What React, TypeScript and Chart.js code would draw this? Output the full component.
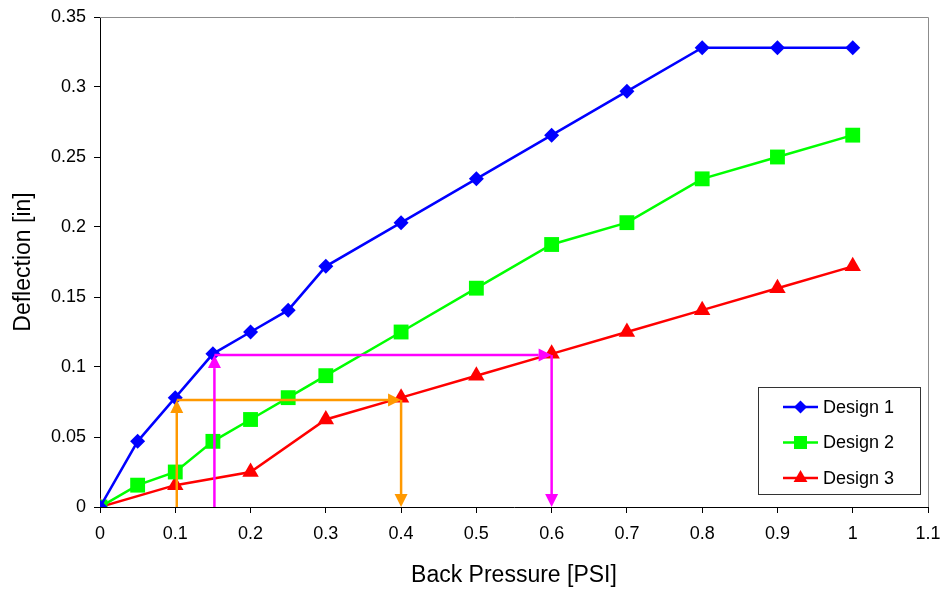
import React, { useEffect, useRef } from "react";
import { Chart, registerables } from "chart.js";

Chart.register(...registerables);

// ---- data ----
const xDesign1 = [0, 0.05, 0.1, 0.15, 0.2, 0.25, 0.3, 0.4, 0.5, 0.6, 0.7, 0.8, 0.9, 1];
const yDesign1 = [0, 0.0469, 0.0781, 0.1094, 0.125, 0.1406, 0.1719, 0.2031, 0.2344, 0.2656, 0.2969, 0.3281, 0.3281, 0.3281];

const xDesign2 = [0, 0.05, 0.1, 0.15, 0.2, 0.25, 0.3, 0.4, 0.5, 0.6, 0.7, 0.8, 0.9, 1];
const yDesign2 = [0, 0.0156, 0.025, 0.0469, 0.0625, 0.0781, 0.0938, 0.125, 0.1563, 0.1875, 0.2031, 0.2344, 0.25, 0.2656];

const xDesign3 = [0, 0.1, 0.2, 0.3, 0.4, 0.5, 0.6, 0.7, 0.8, 0.9, 1];
const yDesign3 = [0, 0.0156, 0.025, 0.0625, 0.0781, 0.0938, 0.1094, 0.125, 0.1406, 0.1563, 0.1719];

const seriesLabels = ["Design 1", "Design 2", "Design 3"];

// arrows: [x1, y1, x2, y2] in data units, head at (x2, y2)
const orangeArrows = [
  [0.102, 0, 0.102, 0.0765],
  [0.102, 0.0765, 0.4, 0.0765],
  [0.4, 0.0765, 0.4, 0],
];
const magentaArrows = [
  [0.152, 0, 0.152, 0.1085],
  [0.152, 0.1085, 0.6, 0.1085],
  [0.6, 0.1085, 0.6, 0],
];

const xTicks = [0, 0.1, 0.2, 0.3, 0.4, 0.5, 0.6, 0.7, 0.8, 0.9, 1, 1.1];
const yTicks = [0, 0.05, 0.1, 0.15, 0.2, 0.25, 0.3, 0.35];

const FONT = "'Liberation Sans', Arial, sans-serif";

const toPoints = (xs: number[], ys: number[]) => xs.map((x, i) => ({ x, y: ys[i] }));

const arrowPlugin = {
  id: "arrows",
  afterDatasetsDraw(chart: any) {
    const { ctx, scales } = chart;
    const xs = scales.x;
    const ys = scales.y;
    const drawSet = (arr: number[][], color: string) => {
      arr.forEach(([x1, y1, x2, y2]) => {
        const px1 = xs.getPixelForValue(x1);
        const py1 = ys.getPixelForValue(y1);
        const px2 = xs.getPixelForValue(x2);
        const py2 = ys.getPixelForValue(y2);
        const ang = Math.atan2(py2 - py1, px2 - px1);
        const len = 13;
        const half = 6.5;
        const bx = px2 - Math.cos(ang) * len;
        const by = py2 - Math.sin(ang) * len;
        ctx.save();
        ctx.strokeStyle = color;
        ctx.fillStyle = color;
        ctx.lineWidth = 2.5;
        ctx.beginPath();
        ctx.moveTo(px1, py1);
        ctx.lineTo(bx, by);
        ctx.stroke();
        ctx.beginPath();
        ctx.moveTo(px2, py2);
        ctx.lineTo(bx + Math.sin(ang) * half, by - Math.cos(ang) * half);
        ctx.lineTo(bx - Math.sin(ang) * half, by + Math.cos(ang) * half);
        ctx.closePath();
        ctx.fill();
        ctx.restore();
      });
    };
    drawSet(orangeArrows, "#ff9900");
    drawSet(magentaArrows, "#ff00ff");
  },
};

const drawMarker = (ctx: CanvasRenderingContext2D, style: string, x: number, y: number, r: number) => {
  ctx.beginPath();
  if (style === "rectRot") {
    ctx.moveTo(x, y - r);
    ctx.lineTo(x + r, y);
    ctx.lineTo(x, y + r);
    ctx.lineTo(x - r, y);
  } else if (style === "rect") {
    ctx.rect(x - r, y - r, 2 * r, 2 * r);
  } else {
    const s = r * Math.sqrt(3);
    ctx.moveTo(x, y - r);
    ctx.lineTo(x + s / 2, y + r / 2);
    ctx.lineTo(x - s / 2, y + r / 2);
  }
  ctx.closePath();
  ctx.fill();
};

const frameAndLegendPlugin = {
  id: "frameLegend",
  beforeDatasetsDraw(chart: any) {
    const { ctx, chartArea } = chart;
    ctx.save();
    ctx.strokeStyle = "#8c8c8c";
    ctx.lineWidth = 1;
    ctx.beginPath();
    ctx.moveTo(chartArea.left, chartArea.top + 0.5);
    ctx.lineTo(chartArea.right + 0.5, chartArea.top + 0.5);
    ctx.lineTo(chartArea.right + 0.5, chartArea.bottom);
    ctx.stroke();
    ctx.restore();
  },
  afterDraw(chart: any) {
    const { ctx } = chart;
    const bx = 758, by = 387, bw = 162, bh = 107;
    ctx.save();
    ctx.fillStyle = "#ffffff";
    ctx.fillRect(bx, by, bw, bh);
    ctx.strokeStyle = "#333333";
    ctx.lineWidth = 1;
    ctx.strokeRect(bx + 0.5, by + 0.5, bw, bh);
    chart.data.datasets.forEach((ds: any, i: number) => {
      const cy = 407 + i * 35.5;
      ctx.strokeStyle = ds.borderColor;
      ctx.lineWidth = 2.5;
      ctx.beginPath();
      ctx.moveTo(783, cy);
      ctx.lineTo(818, cy);
      ctx.stroke();
      ctx.fillStyle = ds.backgroundColor;
      const r = i === 0 ? 6.5 : i === 1 ? 6.5 : 8;
      drawMarker(ctx, ds.pointStyle, 800.5, cy, r);
      ctx.fillStyle = "#000000";
      ctx.font = `18px ${FONT}`;
      ctx.textBaseline = "middle";
      ctx.textAlign = "left";
      ctx.fillText(ds.label, 823, cy + 1);
    });
    ctx.restore();
  },
};

export default function App() {
  const canvasRef = useRef<HTMLCanvasElement | null>(null);

  useEffect(() => {
    document.body.style.margin = "0";
    const canvas = canvasRef.current;
    if (!canvas) return;
    const chart = new Chart(canvas, {
      type: "line",
      data: {
        datasets: [
          {
            label: seriesLabels[0],
            data: toPoints(xDesign1, yDesign1),
            borderColor: "#0000ff",
            backgroundColor: "#0000ff",
            borderWidth: 2.5,
            pointStyle: "rectRot",
            pointRadius: 7.5,
            pointBorderWidth: 0,
            tension: 0,
          },
          {
            label: seriesLabels[1],
            data: toPoints(xDesign2, yDesign2),
            borderColor: "#00ff00",
            backgroundColor: "#00ff00",
            borderWidth: 2.5,
            pointStyle: "rect",
            pointRadius: 10.5,
            pointBorderWidth: 0,
            tension: 0,
          },
          {
            label: seriesLabels[2],
            data: toPoints(xDesign3, yDesign3),
            borderColor: "#ff0000",
            backgroundColor: "#ff0000",
            borderWidth: 2.5,
            pointStyle: "triangle",
            pointRadius: 9.5,
            pointBorderWidth: 0,
            tension: 0,
          },
        ],
      },
      options: {
        animation: false,
        responsive: false,
        layout: { padding: { left: 0, right: 18, top: 17, bottom: 0 } },
        plugins: {
          legend: { display: false },
          tooltip: { enabled: false },
        },
        scales: {
          x: {
            type: "linear",
            min: 0,
            max: 1.1,
            afterFit: (s: any) => {
              s.height = 83;
              s.paddingLeft = 0;
              s.paddingRight = 0;
            },
            afterBuildTicks: (s: any) => {
              s.ticks = xTicks.map((v) => ({ value: v }));
            },
            ticks: {
              color: "#000",
              font: { family: FONT, size: 18 },
              padding: 10,
              maxRotation: 0,
              autoSkip: false,
              callback: (v: any) => String(+Number(v).toFixed(2)),
            },
            grid: { drawOnChartArea: false, color: "#000", tickLength: 6 },
            border: { display: true, color: "#000", width: 1 },
            title: {
              display: true,
              text: "Back Pressure [PSI]",
              color: "#000",
              font: { family: FONT, size: 23 },
              padding: { top: 0, bottom: 1 },
            },
          },
          y: {
            type: "linear",
            min: 0,
            max: 0.35,
            afterFit: (s: any) => {
              s.width = 100;
              s.paddingTop = 0;
              s.paddingBottom = 0;
            },
            afterBuildTicks: (s: any) => {
              s.ticks = yTicks.map((v) => ({ value: v }));
            },
            ticks: {
              color: "#000",
              font: { family: FONT, size: 18 },
              padding: 8,
              autoSkip: false,
              callback: (v: any) => String(+Number(v).toFixed(2)),
            },
            grid: { drawOnChartArea: false, color: "#000", tickLength: 6 },
            border: { display: true, color: "#000", width: 1 },
            title: {
              display: true,
              text: "Deflection [in]",
              color: "#000",
              font: { family: FONT, size: 23 },
              padding: { top: 10, bottom: 0 },
            },
          },
        },
      },
      plugins: [frameAndLegendPlugin, arrowPlugin],
    } as any);
    return () => chart.destroy();
  }, []);

  return <canvas ref={canvasRef} width={946} height={590} style={{ display: "block" }} />;
}
